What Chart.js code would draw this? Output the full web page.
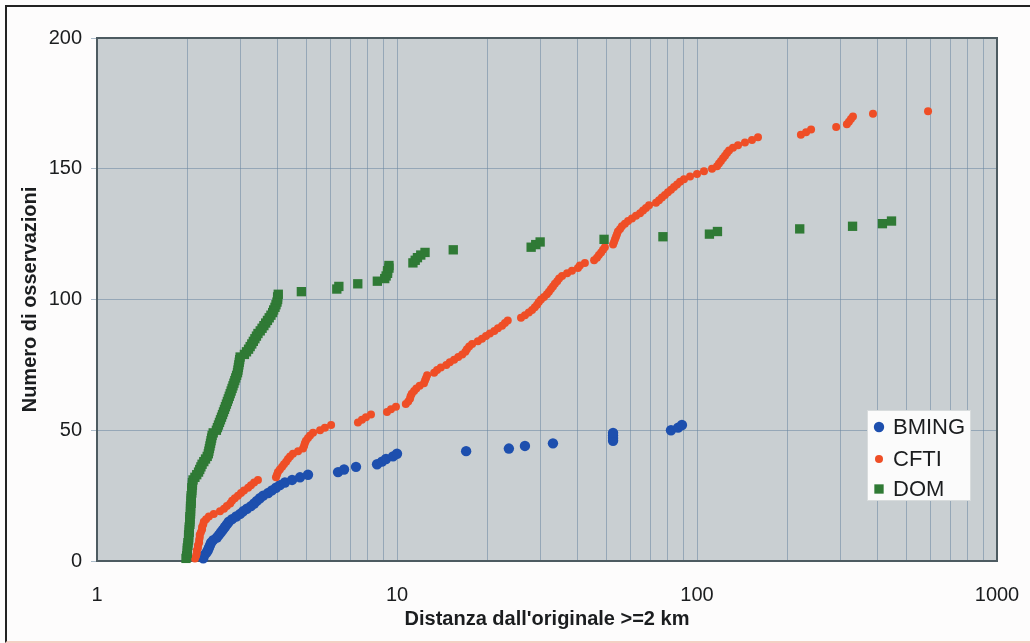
<!DOCTYPE html>
<html>
<head>
<meta charset="utf-8">
<script src="https://cdn.jsdelivr.net/npm/chart.js@4/dist/chart.umd.min.js"></script>
<style>
  html, body { margin: 0; padding: 0; background: #fdfcfc; }
  #wrap { position: relative; width: 1030px; height: 643px; overflow: hidden; }
  #frame { position: absolute; left: 5px; top: 5px; width: 1030px; height: 634px;
           border-left: 2px solid #222; border-top: 2px solid #222; border-bottom: 2px solid #f4cfc4; pointer-events: none; }
  canvas { position: absolute; left: 0; top: 0; }
</style>
</head>
<body>
<div id="wrap">
  <canvas id="c" width="1030" height="643"></canvas>
  <div id="frame"></div>
</div>
<script>
// ---- data ----
const seriesNames = ['BMING', 'CFTI', 'DOM'];

const bmingDist = [2.26,2.27,2.31,2.34,2.36,2.38,2.40,2.44,2.51,2.55,
  2.59,2.63,2.67,2.71,2.75,2.82,2.91,3.0,3.07,3.16,
  3.26,3.34,3.41,3.49,3.58,3.72,3.83,3.95,4.07,4.23,
  4.47,4.75,5.05,6.36,6.66,7.30,8.58,8.91,9.19,9.70,
  10.0,17.0,23.6,26.7,33.1,52.5,52.5,52.5,52.5,81.9,
  86.5,89.1];
const bmingCount = [1,2,3,4,5,6,7,8,9,10,
  11,12,13,14,15,16,17,18,19,20,
  21,22,23,24,25,26,27,28,29,30,
  31,32,33,34,35,36,37,38,39,40,
  41,42,43,44,45,46,47,48,49,50,
  51,52];

const cftiDist = [2.12,2.14,2.15,2.15,2.17,2.17,2.19,2.19,2.20,2.20,
  2.22,2.24,2.24,2.26,2.27,2.31,2.36,2.45,2.57,2.65,
  2.71,2.78,2.82,2.88,2.95,3.02,3.09,3.19,3.26,3.34,
  3.44,3.95,3.98,4.01,4.07,4.14,4.20,4.27,4.33,4.40,
  4.50,4.68,4.86,4.90,4.93,4.97,5.05,5.13,5.25,5.54,
  5.75,6.03,7.41,7.64,7.88,8.19,9.26,9.55,9.92,10.7,
  10.9,11.05,11.1,11.2,11.4,11.6,11.9,12.3,12.4,12.5,
  12.6,13.3,13.6,14.0,14.6,15.0,15.5,16.0,16.5,16.9,
  17.1,17.4,17.8,18.6,19.2,19.8,20.4,21.1,21.7,22.4,
  22.9,23.4,25.9,26.7,27.5,28.2,28.8,29.3,29.7,30.2,
  30.9,31.6,32.1,32.6,33.1,33.6,34.2,34.7,35.5,36.9,
  38.3,40.1,40.7,42.3,45.4,46.4,47.1,47.9,48.6,49.3,
  52.5,52.9,53.3,53.7,54.1,54.5,55.4,56.2,57.5,58.9,
  60.7,62.6,64.6,66.1,67.6,69.2,73.0,74.7,76.4,78.2,
  80.0,81.9,83.8,85.8,87.8,90.5,94.8,100,105.5,112.2,
  116.6,118.4,120.2,122.1,124.0,125.9,127.9,131.8,137.0,144.5,
  152.5,159.7,222,231,240,291,316,321,326,331,
  386,589];
const cftiCount = [1,2,3,4,5,6,7,8,9,10,
  11,12,13,14,15,16,17,18,19,20,
  21,22,23,24,25,26,27,28,29,30,
  31,32,33,34,35,36,37,38,39,40,
  41,42,43,44,45,46,47,48,49,50,
  51,52,53,54,55,56,57,58,59,60,
  61,62,63,64,65,66,67,68,69,70,
  71,72,73,74,75,76,77,78,79,80,
  81,82,83,84,85,86,87,88,89,90,
  91,92,93,94,95,96,97,98,99,100,
  101,102,103,104,105,106,107,108,109,110,
  111,112,113,114,115,116,117,118,119,120,
  121,122,123,124,125,126,127,128,129,130,
  131,132,133,134,135,136,137,138,139,140,
  141,142,143,144,145,146,147,148,149,150,
  151,152,153,154,155,156,157,158,159,160,
  161,162,163,164,165,166,167,168,169,170,
  171,172];

const domDist = [1.98,1.99,2.0,2.0,2.0,2.01,2.01,2.02,2.02,2.02,
  2.03,2.03,2.03,2.04,2.04,2.04,2.04,2.05,2.05,2.05,
  2.05,2.06,2.06,2.06,2.06,2.07,2.07,2.07,2.08,2.08,
  2.09,2.12,2.15,2.18,2.2,2.22,2.24,2.27,2.3,2.33,
  2.35,2.36,2.37,2.38,2.39,2.4,2.41,2.42,2.44,2.5,
  2.52,2.54,2.56,2.58,2.6,2.62,2.64,2.66,2.68,2.7,
  2.72,2.74,2.76,2.78,2.8,2.82,2.84,2.86,2.88,2.9,
  2.92,2.94,2.95,2.96,2.97,2.98,2.99,3.0,3.1,3.15,
  3.2,3.24,3.28,3.32,3.36,3.4,3.44,3.5,3.55,3.6,
  3.65,3.7,3.75,3.8,3.85,3.88,3.92,3.95,3.98,4.0,
  4.0,4.02,4.8,6.3,6.4,7.4,8.6,9.1,9.2,9.3,
  9.3,9.4,9.4,11.3,11.5,11.7,12.0,12.4,15.4,28,
  29,30,49,77,110,117,220,330,415,445];
const domCount = [1,2,3,4,5,6,7,8,9,10,
  11,12,13,14,15,16,17,18,19,20,
  21,22,23,24,25,26,27,28,29,30,
  31,32,33,34,35,36,37,38,39,40,
  41,42,43,44,45,46,47,48,49,50,
  51,52,53,54,55,56,57,58,59,60,
  61,62,63,64,65,66,67,68,69,70,
  71,72,73,74,75,76,77,78,79,80,
  81,82,83,84,85,86,87,88,89,90,
  91,92,93,94,95,96,97,98,99,100,
  101,102,103,104,105,106,107,108,109,110,
  111,112,113,114,115,116,117,118,119,120,
  121,122,123,124,125,126,127,128,129,130];

const xGridValues = [1,2,3,4,5,6,7,8,9,10,20,30,40,50,60,70,80,90,100,200,300,400,500,600,700,800,900,1000];
const xLabelValues = [1,10,100,1000];
const yTickStep = 50;
const xTitle = "Distanza dall'originale >=2 km";
const yTitle = 'Numero di osservazioni';

// ---- chart ----
function pts(xs, ys) { return xs.map((x, i) => ({ x: x, y: ys[i] })); }

const FONT = "'Liberation Sans', Arial, Helvetica, sans-serif";
const TEXT = '#1b1d1f';
Chart.defaults.font.family = FONT;
Chart.defaults.color = TEXT;

const plotPlugin = {
  id: 'plotDeco',
  beforeDraw(chart) {
    const { ctx, chartArea: a } = chart;
    ctx.save();
    ctx.fillStyle = '#c9cfd2';
    ctx.fillRect(a.left, a.top, a.right - a.left, a.bottom - a.top);
    ctx.restore();
  },
  beforeDatasetsDraw(chart) {
    const { ctx, chartArea: a } = chart;
    ctx.save();
    ctx.strokeStyle = '#4d5b61';
    ctx.lineWidth = 2;
    ctx.strokeRect(a.left, a.top, a.right - a.left, a.bottom - a.top);
    ctx.restore();
  },
  afterDraw(chart) {
    const { ctx, chartArea: a } = chart;
    const bx = a.right - 130, by = a.top + 372, bw = 104, bh = 91;
    ctx.save();
    ctx.fillStyle = '#fbfbfb';
    ctx.fillRect(bx, by, bw, bh);
    ctx.strokeStyle = '#d8dcdd';
    ctx.lineWidth = 1;
    ctx.strokeRect(bx + 0.5, by + 0.5, bw - 1, bh - 1);
    ctx.font = '22px ' + FONT;
    ctx.textBaseline = 'middle';
    ctx.textAlign = 'left';
    const rowY = [17, 49, 79];
    chart.data.datasets.forEach((ds, i) => {
      const y = by + rowY[i];
      ctx.fillStyle = ds.backgroundColor;
      ctx.beginPath();
      if (ds.pointStyle === 'rect') {
        const s = ds.pointRadius * Math.SQRT1_2;
        ctx.rect(bx + 12 - s, y - s, 2 * s, 2 * s);
      } else {
        ctx.arc(bx + 12, y, ds.pointRadius, 0, Math.PI * 2);
      }
      ctx.fill();
      ctx.fillStyle = TEXT;
      ctx.fillText(ds.label, bx + 26, y + 1);
    });
    ctx.restore();
  }
};

new Chart(document.getElementById('c'), {
  type: 'scatter',
  data: {
    datasets: [
      { label: seriesNames[0], data: pts(bmingDist, bmingCount), order: 3,
        pointStyle: 'circle', pointRadius: 5.2, backgroundColor: '#1d4fae', borderColor: '#1d4fae', borderWidth: 0 },
      { label: seriesNames[1], data: pts(cftiDist, cftiCount), order: 2,
        pointStyle: 'circle', pointRadius: 4, backgroundColor: '#ef4e26', borderColor: '#ef4e26', borderWidth: 0 },
      { label: seriesNames[2], data: pts(domDist, domCount), order: 1,
        pointStyle: 'rect', pointRadius: 6.6, backgroundColor: '#2f7a35', borderColor: '#2f7a35', borderWidth: 0 }
    ]
  },
  options: {
    responsive: false,
    animation: false,
    clip: false,
    layout: { padding: { left: 0, top: 38, right: 33, bottom: 0 } },
    plugins: { legend: { display: false }, tooltip: { enabled: false } },
    elements: { point: { hoverRadius: 0 } },
    scales: {
      x: {
        type: 'logarithmic',
        min: 1, max: 1000,
        afterBuildTicks(scale) { scale.ticks = xGridValues.map(v => ({ value: v })); },
        afterFit(scale) { scale.height = 82; scale.paddingLeft = 0; scale.paddingRight = 0; },
        ticks: {
          autoSkip: false, maxRotation: 0, padding: 22,
          font: { size: 20 }, color: TEXT,
          callback: (v) => xLabelValues.includes(v) ? String(v) : ''
        },
        grid: { color: 'rgba(105,135,160,0.55)', lineWidth: 1, drawTicks: false },
        border: { display: false },
        title: { display: true, text: xTitle, font: { size: 20, weight: 'bold' }, color: TEXT, padding: { top: 0, bottom: 12 } }
      },
      y: {
        min: 0, max: 200,
        afterFit(scale) { scale.width = 97; scale.paddingTop = 0; scale.paddingBottom = 0; },
        ticks: { stepSize: yTickStep, padding: 9, font: { size: 20 }, color: TEXT },
        grid: { color: 'rgba(105,135,160,0.55)', lineWidth: 1, tickLength: 6 },
        border: { display: false },
        title: { display: true, text: yTitle, font: { size: 20, weight: 'bold' }, color: TEXT, padding: { top: 18, bottom: 0 } }
      }
    }
  },
  plugins: [plotPlugin]
});
</script>
</body>
</html>
